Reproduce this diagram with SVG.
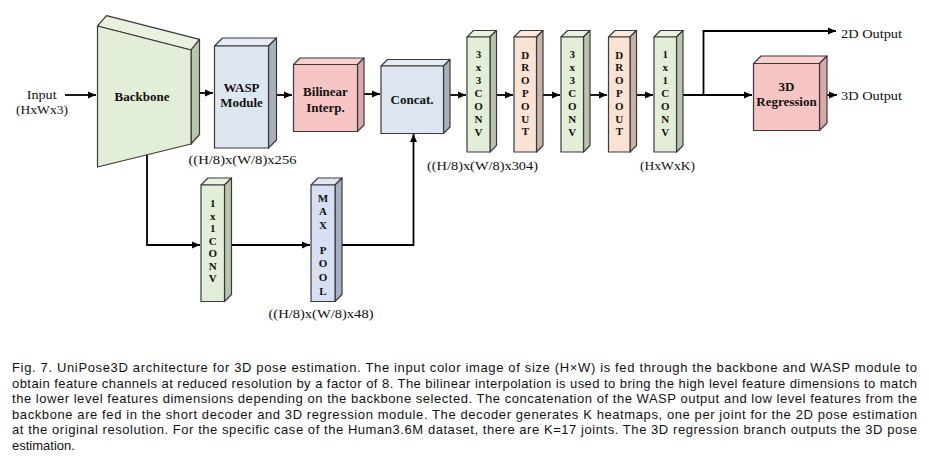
<svg xmlns="http://www.w3.org/2000/svg" width="929" height="458" viewBox="0 0 929 458">
<defs>
<marker id="ah" markerUnits="userSpaceOnUse" markerWidth="9" markerHeight="8" refX="8" refY="4" orient="auto">
<path d="M0,0.5 L8,4 L0,7.5 Z" fill="#000"/>
</marker>
<style>
.ol{stroke:#3a3a3a;stroke-width:1.2;stroke-linejoin:round}
.gF{fill:#e3eed8}.gT{fill:#e9f1df}.gS{fill:#b9c4ad}
.bF{fill:#dde6f1}.bT{fill:#e4ebf4}.bS{fill:#a9b1bd}
.pF{fill:#f7c5c3}.pT{fill:#f9d0ce}.pS{fill:#d8aaa8}
.oF{fill:#fae3d4}.oT{fill:#fbe9de}.oS{fill:#c9b3a6}
.lF{fill:#d8dff2}.lT{fill:#e0e6f5}.lS{fill:#a9afc2}
.lbl{font-family:"Liberation Serif","DejaVu Serif",serif;font-weight:bold;font-size:13px;fill:#111;text-anchor:middle}
.v{font-family:"Liberation Serif","DejaVu Serif",serif;font-weight:bold;font-size:11px;fill:#111;text-anchor:middle}
.t{font-family:"Liberation Serif","DejaVu Serif",serif;font-size:13px;fill:#111}
.c{font-family:"Liberation Sans",Arial,sans-serif;font-size:13px;fill:#111}
.cn{fill:none;stroke:#000;stroke-width:1.8}
</style>
</defs>

<g id="connectors">
<line class="cn" x1="65" y1="95" x2="96" y2="95" marker-end="url(#ah)"/>
<line class="cn" x1="195" y1="93" x2="213" y2="93" marker-end="url(#ah)"/>
<line class="cn" x1="270" y1="95" x2="292" y2="95" marker-end="url(#ah)"/>
<line class="cn" x1="360" y1="94" x2="380" y2="94" marker-end="url(#ah)"/>
<line class="cn" x1="447" y1="95" x2="466" y2="95" marker-end="url(#ah)"/>
<line class="cn" x1="493" y1="95" x2="513" y2="95" marker-end="url(#ah)"/>
<line class="cn" x1="540" y1="95" x2="560" y2="95" marker-end="url(#ah)"/>
<line class="cn" x1="587" y1="95" x2="607" y2="95" marker-end="url(#ah)"/>
<line class="cn" x1="633" y1="95" x2="653" y2="95" marker-end="url(#ah)"/>
<line class="cn" x1="680" y1="95" x2="752" y2="95" marker-end="url(#ah)"/>
<polyline class="cn" points="703.5,95 703.5,31 836,31" marker-end="url(#ah)"/>
<line class="cn" x1="820" y1="95" x2="837" y2="95" marker-end="url(#ah)"/>
<polyline class="cn" points="147,153 147,245 200,245" marker-end="url(#ah)"/>
<line class="cn" x1="227" y1="245" x2="310" y2="245" marker-end="url(#ah)"/>
<polyline class="cn" points="336,245 413.5,245 413.5,134" marker-end="url(#ah)"/>
</g>

<g id="input">
<text class="t" x="26.7" y="99" textLength="30" lengthAdjust="spacingAndGlyphs">Input</text>
<text class="t" x="16" y="114" textLength="52" lengthAdjust="spacingAndGlyphs">(HxWx3)</text>
</g>

<g id="backbone">
<polygon class="ol gT" points="97.5,26 106.5,15.7 199.5,39.3 191,50"/>
<polygon class="ol gS" points="191,50 199.5,39.3 199.5,134.5 191,144"/>
<polygon class="ol gF" points="97.5,26 191,50 191,144 97.5,167"/>
<text class="lbl" x="142" y="101">Backbone</text>
</g>

<g id="wasp">
<polygon class="ol bT" points="214.5,46 222.5,38 276.5,38 268.5,46"/>
<polygon class="ol bS" points="268.5,46 276.5,38 276.5,140 268.5,148"/>
<rect class="ol bF" x="214.5" y="46" width="54" height="102"/>
<text class="lbl" x="241.5" y="91.5">WASP</text>
<text class="lbl" x="241.5" y="107">Module</text>
<text class="t" x="188.5" y="163.5" textLength="108" lengthAdjust="spacingAndGlyphs">((H/8)x(W/8)x256</text>
</g>

<g id="bilinear">
<polygon class="ol pT" points="293.5,64.5 300,58 364,58 357.5,64.5"/>
<polygon class="ol pS" points="357.5,64.5 364,58 364,125 357.5,131.5"/>
<rect class="ol pF" x="293.5" y="64.5" width="64" height="67"/>
<text class="lbl" x="325.5" y="95.5">Bilinear</text>
<text class="lbl" x="325.5" y="111.5">Interp.</text>
</g>

<g id="concat">
<polygon class="ol bT" points="381,66 387.5,59.5 450,59.5 443.5,66"/>
<polygon class="ol bS" points="443.5,66 450,59.5 450,127 443.5,133.5"/>
<rect class="ol bF" x="381" y="66" width="62.5" height="67.5"/>
<text class="lbl" x="412" y="103.5">Concat.</text>
</g>

<g id="conv1">
<polygon class="ol gT" points="467,37 473.5,30.5 496.5,30.5 490,37"/>
<polygon class="ol gS" points="490,37 496.5,30.5 496.5,145.5 490,152"/>
<rect class="ol gF" x="467" y="37" width="23" height="115"/>
<text class="v"><tspan x="478.5" y="58">3</tspan><tspan x="478.5" y="71">x</tspan><tspan x="478.5" y="84">3</tspan><tspan x="478.5" y="97">C</tspan><tspan x="478.5" y="110">O</tspan><tspan x="478.5" y="123">N</tspan><tspan x="478.5" y="136">V</tspan></text>
<text class="t" x="427" y="170" textLength="111" lengthAdjust="spacingAndGlyphs">((H/8)x(W/8)x304)</text>
</g>

<g id="dropout1">
<polygon class="ol oT" points="514,37 520.5,30.5 543,30.5 536.5,37"/>
<polygon class="ol oS" points="536.5,37 543,30.5 543,145.5 536.5,152"/>
<rect class="ol oF" x="514" y="37" width="22.5" height="115"/>
<text class="v"><tspan x="525.3" y="58.5">D</tspan><tspan x="525.3" y="71.3">R</tspan><tspan x="525.3" y="84.1">O</tspan><tspan x="525.3" y="96.9">P</tspan><tspan x="525.3" y="109.7">O</tspan><tspan x="525.3" y="122.5">U</tspan><tspan x="525.3" y="135.3">T</tspan></text>
</g>

<g id="conv2">
<polygon class="ol gT" points="561,37 567.5,30.5 590,30.5 583.5,37"/>
<polygon class="ol gS" points="583.5,37 590,30.5 590,145.5 583.5,152"/>
<rect class="ol gF" x="561" y="37" width="22.5" height="115"/>
<text class="v"><tspan x="572.3" y="58">3</tspan><tspan x="572.3" y="71">x</tspan><tspan x="572.3" y="84">3</tspan><tspan x="572.3" y="97">C</tspan><tspan x="572.3" y="110">O</tspan><tspan x="572.3" y="123">N</tspan><tspan x="572.3" y="136">V</tspan></text>
</g>

<g id="dropout2">
<polygon class="ol oT" points="608.5,37 615,30.5 636.5,30.5 630,37"/>
<polygon class="ol oS" points="630,37 636.5,30.5 636.5,145.5 630,152"/>
<rect class="ol oF" x="608.5" y="37" width="21.5" height="115"/>
<text class="v"><tspan x="619.3" y="58.5">D</tspan><tspan x="619.3" y="71.3">R</tspan><tspan x="619.3" y="84.1">O</tspan><tspan x="619.3" y="96.9">P</tspan><tspan x="619.3" y="109.7">O</tspan><tspan x="619.3" y="122.5">U</tspan><tspan x="619.3" y="135.3">T</tspan></text>
</g>

<g id="conv3">
<polygon class="ol gT" points="654,37 660.5,30.5 683,30.5 676.5,37"/>
<polygon class="ol gS" points="676.5,37 683,30.5 683,145.5 676.5,152"/>
<rect class="ol gF" x="654" y="37" width="22.5" height="115"/>
<text class="v"><tspan x="665.3" y="58">1</tspan><tspan x="665.3" y="71">x</tspan><tspan x="665.3" y="84">1</tspan><tspan x="665.3" y="97">C</tspan><tspan x="665.3" y="110">O</tspan><tspan x="665.3" y="123">N</tspan><tspan x="665.3" y="136">V</tspan></text>
<text class="t" x="640" y="170" textLength="55" lengthAdjust="spacingAndGlyphs">(HxWxK)</text>
</g>

<g id="regression">
<polygon class="ol pT" points="753.5,63.5 761,56 827,56 819.5,63.5"/>
<polygon class="ol pS" points="819.5,63.5 827,56 827,123 819.5,130.5"/>
<rect class="ol pF" x="753.5" y="63.5" width="66" height="67"/>
<text class="lbl" x="786.5" y="91">3D</text>
<text class="lbl" x="786.5" y="106">Regression</text>
</g>

<g id="outputs">
<text class="t" x="841" y="37.5" textLength="61" lengthAdjust="spacingAndGlyphs">2D Output</text>
<text class="t" x="841" y="100" textLength="61" lengthAdjust="spacingAndGlyphs">3D Output</text>
</g>

<g id="conv_low">
<polygon class="ol gT" points="201,185 208,178 231.5,178 224.5,185"/>
<polygon class="ol gS" points="224.5,185 231.5,178 231.5,294.5 224.5,301.5"/>
<rect class="ol gF" x="201" y="185" width="23.5" height="116.5"/>
<text class="v"><tspan x="212.7" y="207">1</tspan><tspan x="212.7" y="219.5">x</tspan><tspan x="212.7" y="232">1</tspan><tspan x="212.7" y="244.5">C</tspan><tspan x="212.7" y="257">O</tspan><tspan x="212.7" y="269.5">N</tspan><tspan x="212.7" y="282">V</tspan></text>
</g>

<g id="maxpool">
<polygon class="ol lT" points="311,185 318,178 342,178 335,185"/>
<polygon class="ol lS" points="335,185 342,178 342,294.5 335,301.5"/>
<rect class="ol lF" x="311" y="185" width="24" height="116.5"/>
<text class="v"><tspan x="323" y="202">M</tspan><tspan x="323" y="215">A</tspan><tspan x="323" y="228.5">X</tspan><tspan x="323" y="253.5">P</tspan><tspan x="323" y="267">O</tspan><tspan x="323" y="280.5">O</tspan><tspan x="323" y="295">L</tspan></text>
<text class="t" x="268.5" y="318" textLength="105" lengthAdjust="spacingAndGlyphs">((H/8)x(W/8)x48)</text>
</g>

<g id="caption">
<text class="c" x="12" y="372" textLength="905" lengthAdjust="spacing">Fig. 7. UniPose3D architecture for 3D pose estimation. The input color image of size (H×W) is fed through the backbone and WASP module to</text>
<text class="c" x="12" y="387.5" textLength="905" lengthAdjust="spacing">obtain feature channels at reduced resolution by a factor of 8. The bilinear interpolation is used to bring the high level feature dimensions to match</text>
<text class="c" x="12" y="403" textLength="905" lengthAdjust="spacing">the lower level features dimensions depending on the backbone selected. The concatenation of the WASP output and low level features from the</text>
<text class="c" x="12" y="418.5" textLength="905" lengthAdjust="spacing">backbone are fed in the short decoder and 3D regression module. The decoder generates K heatmaps, one per joint for the 2D pose estimation</text>
<text class="c" x="12" y="434" textLength="905" lengthAdjust="spacing">at the original resolution. For the specific case of the Human3.6M dataset, there are K=17 joints. The 3D regression branch outputs the 3D pose</text>
<text class="c" x="12" y="449.5">estimation.</text>
</g>
</svg>
